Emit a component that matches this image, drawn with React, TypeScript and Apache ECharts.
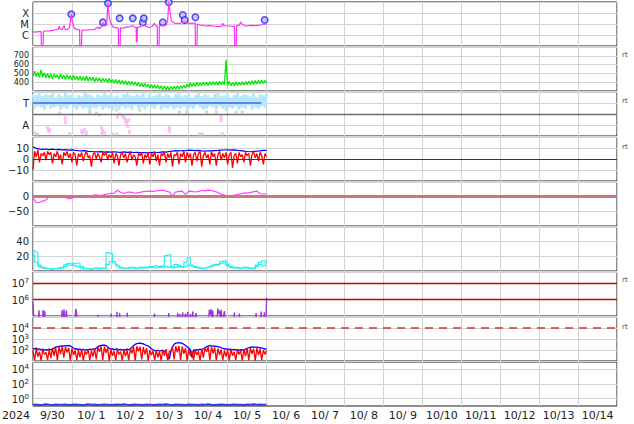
import React, { useEffect, useRef } from 'react';
import * as echarts from 'echarts';

const FONT = 'DejaVu Sans';
const GRID_COLOR = '#d2d2d2';

const dayLabels = ['9/30', '10/ 1', '10/ 2', '10/ 3', '10/ 4', '10/ 5', '10/ 6', '10/ 7', '10/ 8', '10/ 9', '10/10', '10/11', '10/12', '10/13', '10/14'];
const yearLabel = '2024';

// X-ray flux [hour since 9/30 00:00, W/m2]
const xrayFlux: [number, number][] = [
  [0, 1.8e-6], [2, 1.9e-6], [4, 2.0e-6], [5, 2.0e-6], [5.2, 1e-7], [6.2, 1e-7], [6.4, 2.1e-6], [8, 2.3e-6], [10, 2.4e-6],
  [12, 2.6e-6], [14, 3.0e-6], [15.5, 3.2e-6], [16.2, 6.5e-6], [16.8, 3.4e-6], [18, 3.0e-6], [19.2, 7.5e-6], [19.8, 3.2e-6],
  [21, 3.1e-6], [22.5, 4.5e-6], [23.6, 7.6e-5], [24.3, 1.5e-5], [25.5, 4.0e-6], [27, 3.2e-6], [28.7, 2.9e-6], [28.9, 1e-7],
  [29.9, 1e-7], [30.1, 2.8e-6], [32, 2.7e-6], [34, 2.9e-6], [36, 3.0e-6], [38, 3.3e-6], [40, 5.5e-6], [40.6, 3.8e-6],
  [42, 5.0e-6], [43.1, 1.2e-5], [44, 6.5e-6], [45.4, 8e-6], [46.2, 7.6e-4], [47, 4e-5], [48, 1.2e-5], [49.2, 5.5e-6],
  [51, 4.6e-6], [52.6, 4.3e-6], [52.7, 1e-7], [53.7, 1e-7], [53.9, 4.4e-6], [55.4, 4.3e-6], [57, 5.0e-6], [59.5, 5.7e-6],
  [61.5, 7e-6], [62.5, 5.2e-6], [63.6, 5e-6], [63.7, 2.4e-7], [64.2, 2.4e-7], [64.4, 5.2e-6], [65.7, 5.3e-6], [67.7, 8e-6],
  [68.7, 7.5e-6], [70, 5.8e-6], [71.8, 4.8e-6], [73.5, 6e-6], [74.9, 1.2e-5], [75.6, 7e-6], [76.6, 6.5e-6], [76.7, 1e-7],
  [77.7, 1e-7], [77.9, 6.8e-6], [79, 7e-6], [80, 9e-6], [81, 7e-6], [82.1, 8.1e-6], [83, 2e-5], [83.7, 9.4e-4],
  [84.5, 1.2e-4], [85.2, 2.3e-5], [86.3, 1.4e-5], [87.3, 1.2e-5], [89, 1.15e-5], [90.3, 1.1e-5], [92.3, 1.4e-5],
  [93.4, 1.5e-5], [95, 1.2e-5], [96.5, 1.2e-5], [98, 1.1e-5], [100, 1.3e-5], [100.1, 1e-7], [101.1, 1e-7], [101.3, 1e-5],
  [102.6, 8.1e-6], [104.5, 7.5e-6], [106.7, 6.6e-6], [108.5, 7e-6], [110.8, 6.6e-6], [113, 6.2e-6], [114.9, 5.7e-6],
  [116.3, 6.5e-6], [116.9, 1.2e-5], [117.6, 7e-6], [119, 6.6e-6], [121, 6.6e-6], [123, 6.2e-6], [124.2, 6.5e-6],
  [124.3, 1e-7], [125.3, 1e-7], [125.5, 7e-6], [127, 8e-6], [128.2, 1.5e-5], [129, 9e-6], [131.3, 6.6e-6], [133, 7e-6],
  [135, 7.5e-6], [137.5, 7.1e-6], [139.5, 7.8e-6], [141, 8.5e-6], [142.8, 1.0e-5], [143.8, 9.5e-6],
];
const flarePeaks: [number, number][] = [
  [23.6, 7.6e-5], [43.1, 1.4e-5], [46.2, 7.6e-4], [53.4, 3.3e-5], [61.5, 3.3e-5], [67.7, 1.4e-5], [68.3, 3.3e-5],
  [80, 1.4e-5], [83.7, 9.4e-4], [92.3, 6.6e-5], [93.5, 2.3e-5], [100.1, 4.1e-5], [142.8, 2.3e-5],
];

// hourly solar wind speed (km/s)
const windSpeed = [
  470, 525, 465, 510, 455, 540, 460, 505, 450, 500,
  445, 495, 440, 490, 450, 485, 435, 495, 440, 480,
  430, 485, 435, 475, 425, 480, 430, 470, 420, 468,
  420, 462, 415, 470, 410, 458, 418, 455, 405, 452,
  410, 448, 400, 446, 405, 440, 395, 442, 398, 432,
  388, 432, 385, 425, 380, 420, 378, 415, 372, 412,
  370, 408, 365, 402, 360, 398, 352, 390, 348, 385,
  342, 380, 335, 375, 332, 370, 328, 365, 322, 360,
  318, 356, 315, 352, 312, 350, 318, 355, 320, 358,
  322, 360, 328, 366, 332, 380, 342, 392, 350, 390,
  355, 398, 360, 392, 362, 402, 365, 400, 362, 406,
  368, 408, 370, 404, 366, 410, 372, 406, 368, 655,
  362, 408, 360, 400, 358, 404, 362, 398, 365, 404,
  368, 406, 372, 410, 375, 416, 378, 418, 380, 422,
  382, 426, 385, 420, 388,
];

// T / A panel (hourly band, level line, scattered points)
const tBand = [
  3.8, 2.5, 3.7, 2.7, 3.9, 2.6, 3.6, 2.4, 3.8, 2.8,
  3.7, 2.5, 3.9, 2.6, 3.5, 2.7, 3.8, 2.4, 3.6, 2.6,
  3.9, 2.5, 3.7, 2.8, 3.8, 2.6, 3.5, 2.4, 3.7, 2.7,
  3.6, 2.5, 3.9, 2.6, 3.8, 2.3, 3.7, 2.6, 3.5, 2.5,
  3.8, 2.7, 3.6, 2.4, 3.9, 2.6, 3.7, 2.5, 3.8, 2.3,
  3.6, 2.6, 3.7, 2.4, 3.5, 2.7, 3.8, 2.5, 3.9, 2.6,
  3.7, 2.4, 3.6, 2.8, 3.8, 2.5, 3.7, 2.6, 3.9, 2.4,
  3.5, 2.7, 3.8, 2.6, 3.6, 2.5, 3.7, 2.8, 3.9, 2.4,
  3.6, 2.6, 3.8, 2.5, 3.7, 2.7, 3.5, 2.4, 3.8, 2.6,
  3.9, 2.5, 3.6, 2.7, 3.7, 2.4, 3.8, 2.6, 3.5, 2.5,
  3.7, 2.8, 3.9, 2.6, 3.6, 2.4, 3.8, 2.5, 3.7, 2.7,
  3.5, 2.6, 3.8, 2.4, 3.9, 2.7, 3.6, 2.5, 3.7, 2.3,
  3.8, 2.6, 3.5, 2.5, 3.7, 2.7, 3.9, 2.4, 3.6, 2.6,
  3.8, 2.5, 3.7, 2.8, 3.6, 2.4, 3.9, 2.6, 3.5, 2.5,
  3.8, 2.7, 3.7, 2.6, 3.8,
];
const tLevel: [number, number][] = [[0, 3], [140.7, 3]];
const grayPoints: [number, number][] = [
  [16.4, 2.09], [34.9, 2.18], [39.2, 2.09], [41, 1.91], [51.5, 2.36], [53.4, 2.0], [55.2, 1.82], [65.8, 2.36],
  [90.3, 2.18], [94.6, 2.18], [106.9, 2.18], [113, 2.18], [125.4, 2.18], [129, 2.18],
  [1, 0.27], [2.9, 0.18], [22.6, 0.18], [30.6, 0.27], [42.3, 0.18], [49, 0.18], [51.5, 0.18], [102.6, 0.18],
  [104.4, 0.18], [116.7, 0.18],
];
const pinkPoints: [number, number][] = [
  [19.9, 1.61], [19.9, 1.25], [9.0, 0.73], [9.7, 0.45], [10.3, 0.55], [30, 0.45], [31.8, 0.55], [33, 0.27],
  [42.3, 0.73], [42.9, 0.45], [44.1, 0.27], [52.1, 1.73], [56.4, 1.64], [57, 1.36], [57.7, 1.18], [58.3, 0.91],
  [58.9, 1.45], [59.5, 0.36], [84.1, 0.73], [84.1, 0.45], [115.9, 1.73], [115.9, 1.45],
];

// IMF: Bt every 2 h, Bz hourly (nT)
const bt = [
  11.2, 9.6, 9.0, 8.8, 9.1, 8.6, 8.9, 8.4, 8.7, 8.3,
  8.5, 8.1, 8.3, 7.8, 7.5, 7.3, 7.6, 7.0, 6.8, 6.6,
  6.4, 6.7, 6.3, 6.5, 6.2, 6.6, 6.3, 6.1, 6.4, 6.0,
  6.2, 5.9, 6.1, 5.8, 5.9, 5.6, 5.8, 6.0, 5.7, 6.1,
  6.5, 6.3, 6.8, 7.2, 7.6, 7.3, 7.7, 7.5, 8.0, 7.8,
  7.6, 7.9, 7.4, 7.2, 7.5, 7.3, 7.6, 7.8, 8.1, 8.2,
  8.4, 8.0, 8.3, 7.9, 7.6, 7.2, 6.8, 6.6, 6.9, 7.1,
  7.4, 7.8, 7.9,
];
const bz = [
  -10, 7, 2, 8, -3, 5, 3, 6, -1, 7,
  4, 6, -4, 5, 2, 7, 0, 4, -5, 6,
  3, 7, 1, 5, -3, 6, 4, -6, 5, 2,
  6, -2, 4, 7, 1, 3, -7, 4, 6, 0,
  5, 2, -3, 6, 3, 7, -1, 4, 1, 6,
  -4, 5, 3, -6, 4, 6, 1, 5, -3, 3,
  7, -1, 4, 2, -6, 5, 3, 6, -4, 4,
  1, 6, -5, 5, 2, 7, -2, 4, -6, 5,
  3, 7, -3, 5, 1, 6, -7, 4, 3, 6,
  -5, 5, 2, 7, -3, 6, 1, 5, -6, 4,
  6, -2, 5, 7, -7, 3, 6, 1, 4, -5,
  7, 2, 5, -6, 4, 7, -1, 5, 1, 6,
  -5, 4, 6, -8, 3, 5, -4, 6, 2, 4,
  -3, 6, 3, 5, -6, 4, 7, 1, 5, -2,
  6, 3, -5, 5, 2,
];

// Dst every 2 h (nT)
const dst = [
  -4, -20, -19, -15, -11, 0, 3, 4, 2, 0,
  -2, -7, -5, -1, -1, -2, 0, 2, 3, 6,
  5, 4, 7, 10, 11, 12, 22, 15, 11, 15,
  16, 13, 12, 15, 17, 18, 19, 18, 20, 21,
  22, 19, 16, 2, 16, 18, 19, 8, 19, 18,
  16, 18, 21, 20, 22, 21, 18, 14, 8, 5,
  2, 3, 5, 7, 10, 12, 13, 14, 17, 19,
  10, 9, 10,
];

// density-like traces every 2 h
const cyanA = [
  28, 26, 8, 5, 4, 3, 3, 3, 4, 5,
  9, 8, 8, 10, 11, 6, 4, 3, 3, 3,
  3, 4, 3, 25, 24, 13, 7, 5, 4, 4,
  4, 5, 4, 4, 5, 4, 5, 6, 7, 6,
  5, 21, 22, 4, 5, 8, 6, 12, 18, 8,
  6, 5, 4, 4, 5, 6, 8, 9, 13, 14,
  7, 5, 4, 5, 4, 4, 5, 4, 3, 6,
  12, 14, 14,
];
const cyanB = [
  22, 12, 6, 4, 3, 3, 2, 3, 3, 4,
  6, 10, 11, 7, 6, 4, 3, 3, 2, 4,
  4, 3, 4, 9, 13, 11, 8, 4, 3, 3,
  5, 4, 3, 5, 4, 5, 6, 5, 4, 5,
  7, 6, 5, 6, 9, 6, 5, 6, 8, 7,
  5, 4, 3, 4, 5, 7, 9, 8, 10, 12,
  9, 6, 5, 4, 3, 5, 4, 3, 4, 8,
  9, 7, 12,
];

// electron flux [hour, value]
const electronFlux: [number, number][] = [
  [0, 7.6e5], [0.6, 4e4], [3.2, 4e4], [3.7, 2.2e5], [4.2, 4e4], [5.8, 4e4], [6.2, 2.4e5], [6.7, 4e4], [7.2, 2.0e5], [7.7, 4e4],
  [17.5, 4e4], [17.9, 2.3e5], [18.4, 4e4], [19.1, 2.6e5], [19.6, 4e4], [20.6, 2.2e5], [21.1, 4e4],
  [25.8, 4e4], [26.3, 2.8e5], [26.9, 1.5e5], [27.4, 4e4], [39.6, 4e4], [40, 1.2e5], [40.4, 4e4],
  [47.8, 4e4], [48.2, 1.4e5], [48.6, 4e4], [51.3, 4e4], [51.7, 1.8e5], [52.1, 4e4], [53, 4e4], [53.4, 1.5e5], [53.8, 4e4],
  [57.7, 4e4], [58.1, 1.6e5], [58.5, 4e4], [74.5, 4e4], [74.9, 1.4e5], [75.3, 4e4], [83.3, 4e4], [83.7, 1.5e5], [84.1, 4e4],
  [88.8, 4e4], [89.2, 1.6e5], [89.6, 4e4], [90.5, 1.3e5], [91.2, 4e4], [92.3, 1.7e5], [92.8, 4e4], [94, 1.4e5], [94.6, 4e4],
  [95.4, 1.8e5], [95.9, 4e4], [97, 1.3e5], [97.6, 4e4], [98.5, 1.9e5], [99, 4e4], [100.6, 1.5e5], [101.1, 4e4],
  [108.2, 4e4], [108.7, 2.4e5], [109.2, 1.2e5], [109.8, 2.6e5], [110.4, 4e4], [110.8, 2.2e5], [111.3, 4e4],
  [113.4, 4e4], [113.9, 2.9e5], [114.4, 1.4e5], [115, 2.1e5], [115.5, 4e4], [116, 2.5e5], [116.6, 4e4], [118, 2.0e5], [118.5, 4e4],
  [123.6, 4e4], [124.1, 1.6e5], [124.6, 4e4], [126.7, 4e4], [127.2, 1.4e5], [127.7, 4e4],
  [137, 4e4], [137.5, 1.5e5], [138, 4e4], [140.1, 4e4], [140.6, 1.9e5], [141.2, 4e4], [142.2, 4e4], [142.6, 1.7e5],
  [143.1, 4e4], [143.6, 4e4], [144, 1.3e6],
];

// particle flux, hourly
const fluxBlue = [
  140, 120, 150, 110, 130, 100, 125, 95, 110, 100,
  120, 105, 130, 150, 180, 200, 210, 230, 240, 220,
  250, 240, 260, 230, 190, 150, 120, 130, 110, 125,
  100, 115, 95, 110, 100, 120, 105, 130, 110, 150,
  200, 240, 260, 280, 270, 250, 200, 140, 120, 130,
  110, 120, 125, 100, 115, 95, 110, 100, 120, 105,
  130, 180, 250, 320, 380, 400, 410, 390, 360, 300,
  270, 230, 180, 130, 100, 90, 85, 95, 80, 90,
  85, 80, 75, 20, 15, 80, 200, 330, 420, 450,
  460, 440, 400, 330, 260, 200, 150, 110, 20, 100,
  95, 110, 100, 120, 105, 130, 150, 200, 230, 250,
  240, 230, 220, 210, 200, 180, 160, 140, 130, 120,
  125, 110, 120, 105, 115, 100, 110, 95, 105, 100,
  110, 120, 140, 160, 180, 190, 170, 180, 185, 170,
  160, 150, 140, 120, 130,
];
const fluxRed = [
  90, 12, 130, 25, 70, 11, 120, 40, 60, 13,
  110, 18, 150, 30, 170, 12, 190, 45, 210, 20,
  180, 60, 160, 11, 140, 35, 90, 12, 100, 22,
  120, 11, 75, 40, 105, 12, 85, 25, 130, 14,
  180, 70, 220, 12, 200, 55, 150, 11, 110, 30,
  80, 12, 115, 40, 70, 11, 100, 28, 95, 12,
  130, 50, 190, 11, 220, 75, 200, 14, 180, 40,
  150, 11, 100, 35, 80, 12, 95, 22, 70, 11,
  105, 30, 120, 12, 70, 80, 190, 14, 220, 60,
  230, 12, 210, 45, 150, 11, 120, 30, 80, 12,
  110, 35, 75, 11, 130, 20, 170, 65, 200, 12,
  190, 50, 170, 11, 140, 35, 110, 12, 90, 25,
  100, 11, 120, 30, 70, 12, 105, 40, 90, 11,
  120, 28, 140, 12, 160, 45, 130, 11, 150, 35,
  120, 12, 100, 40, 85,
];

// bottom panel, every 2 h
const bottomFlux = [
  0.15, 0.16, 0.14, 0.15, 0.17, 0.15, 0.14, 0.16, 0.15, 0.15,
  0.16, 0.14, 0.15, 0.16, 0.15, 0.14, 0.15, 0.17, 0.15, 0.16,
  0.14, 0.15, 0.16, 0.15, 0.14, 0.15, 0.16, 0.15, 0.17, 0.15,
  0.14, 0.16, 0.15, 0.15, 0.14, 0.16, 0.15, 0.14, 0.15, 0.16,
  0.15, 0.17, 0.15, 0.14, 0.16, 0.15, 0.15, 0.14, 0.16, 0.15,
  0.15, 0.14, 0.16, 0.15, 0.17, 0.15, 0.14, 0.15, 0.16, 0.15,
  0.14, 0.15, 0.16, 0.15, 0.15, 0.14, 0.16, 0.15, 0.17, 0.15,
  0.16, 0.15, 0.15,
];

const hourly = (arr: number[]) => arr.map((v, i) => [i, v]);
const twoHourly = (arr: number[]) => arr.map((v, i) => [i * 2, v]);

const PANEL_TOPS = [2, 47, 92, 137, 182, 227, 272, 317, 362];
const PANEL_H = 44;

const RICH = {
  b: { fontSize: 10, lineHeight: 11, verticalAlign: 'bottom', fontFamily: FONT, color: '#222' },
  s: { fontSize: 7, lineHeight: 11, verticalAlign: 'top', fontFamily: FONT, color: '#222' },
  n: { fontSize: 10, lineHeight: 9, fontFamily: FONT, color: '#222' },
  m: { fontSize: 8, lineHeight: 8, fontFamily: FONT, color: '#222' },
};

const expOf = (v: number) => {
  const e = Math.log10(v);
  const r = Math.round(e);
  return Math.abs(e - r) < 1e-6 ? r : null;
};

const yAxisBase = (i: number, extra: any, formatter: (v: number) => string) => ({
  gridIndex: i,
  axisLine: { show: false },
  axisTick: { show: false },
  splitLine: { show: true, lineStyle: { color: GRID_COLOR, width: 1 } },
  axisLabel: { margin: 4, fontSize: 10, color: '#222', fontFamily: FONT, rich: RICH, formatter },
  ...extra,
});

const hline = (values: number[], color: string, width: number, type: any = 'solid') => ({
  silent: true,
  symbol: 'none',
  label: { show: false },
  animation: false,
  lineStyle: { color, width, type },
  data: values.map((v) => ({ yAxis: v })),
});

const minus = (v: number) => (v < 0 ? '\u2212' + Math.abs(v) : String(v));

function buildOption() {
  const grids = PANEL_TOPS.map((top) => ({
    left: 33,
    right: 17,
    top,
    height: PANEL_H,
    show: true,
    borderColor: '#1a1a1a',
    borderWidth: 1,
    backgroundColor: 'transparent',
  }));

  const xAxes: any[] = PANEL_TOPS.map((_, i) => ({
    type: 'value',
    gridIndex: i,
    min: 0,
    max: 360,
    interval: 24,
    axisLine: { show: false },
    axisTick: { show: false },
    axisLabel: { show: false },
    splitLine: { show: true, lineStyle: { color: GRID_COLOR, width: 1 } },
  }));
  xAxes.push({
    type: 'category',
    gridIndex: 8,
    data: dayLabels,
    boundaryGap: true,
    position: 'bottom',
    axisLine: { show: false },
    axisTick: { show: false },
    splitLine: { show: false },
    axisLabel: { interval: 0, margin: 4, fontSize: 11, color: '#222', fontFamily: FONT },
  });

  const classMap: Record<number, string> = { [-4]: 'X', [-5]: 'M', [-6]: 'C' };
  const pow = (lo: number, hi: number) => (v: number) => {
    const r = expOf(v);
    if (r === null || r < lo || r > hi) return '';
    return `{b|10}{s|${r}}`;
  };

  const yAxes = [
    yAxisBase(0, { type: 'log', logBase: 10, min: 1e-7, max: 1e-3 }, (v: number) => {
      const r = expOf(v);
      return r !== null && classMap[r] ? `{n|${classMap[r]}}` : '';
    }),
    yAxisBase(1, { type: 'value', min: 300, max: 800, interval: 100 }, (v: number) =>
      v >= 400 && v <= 700 ? `{m|${v}}` : ''),
    yAxisBase(2, { type: 'value', min: 0, max: 4, interval: 1 }, (v: number) =>
      v === 3 ? '{n|T}' : v === 1 ? '{n|A}' : ''),
    yAxisBase(3, { type: 'value', min: -20, max: 20, interval: 10 }, (v: number) =>
      Math.abs(v) <= 10 ? `{n|${minus(v)}}` : ''),
    yAxisBase(4, { type: 'value', min: -100, max: 50, interval: 50 }, (v: number) =>
      v === 0 || v === -50 ? `{n|${minus(v)}}` : ''),
    yAxisBase(5, { type: 'value', min: 0, max: 60, interval: 20 }, (v: number) =>
      v === 20 || v === 40 ? `{n|${v}}` : ''),
    yAxisBase(6, { type: 'log', logBase: 10, min: 1e5, max: 5e7 }, pow(6, 7)),
    yAxisBase(7, { type: 'log', logBase: 10, min: 10, max: 1e5 }, pow(2, 4)),
    {
      ...yAxisBase(8, { type: 'log', logBase: 10, min: 0.1, max: 1e5 }, (v: number) => {
        const r = expOf(v);
        return r !== null && (r === 0 || r === 2 || r === 4) ? `{b|10}{s|${r}}` : '';
      }),
      splitLine: { show: false },
    },
  ];

  const line = (i: number, data: any[], color: string, width: number, extra: any = {}) => ({
    type: 'line',
    xAxisIndex: i,
    yAxisIndex: i,
    data,
    symbol: 'none',
    showSymbol: false,
    lineStyle: { color, width },
    itemStyle: { color },
    clip: true,
    silent: true,
    ...extra,
  });

  const series: any[] = [
    line(0, xrayFlux, '#ff30ff', 1.2),
    {
      type: 'scatter', xAxisIndex: 0, yAxisIndex: 0, data: flarePeaks, symbol: 'circle', symbolSize: 6.5,
      itemStyle: { color: '#b9b9ff', borderColor: '#2424e8', borderWidth: 1.5 }, silent: true,
    },
    line(1, hourly(windSpeed), '#00e800', 1.3),
    line(2, hourly(tBand), '#b2e8fb', 2.5, { markLine: hline([2], '#6e6e6e', 1.3) }),
    {
      type: 'scatter', xAxisIndex: 2, yAxisIndex: 2, data: grayPoints, symbol: 'rect', symbolSize: [3, 3],
      itemStyle: { color: '#cccccc' }, silent: true,
    },
    {
      type: 'scatter', xAxisIndex: 2, yAxisIndex: 2, data: pinkPoints, symbol: 'rect', symbolSize: [3, 4],
      itemStyle: { color: '#f6b6f2' }, silent: true,
    },
    line(2, tLevel, '#6a7cf2', 2),
    line(3, twoHourly(bt), '#0000ff', 1.2, { markLine: hline([0], '#b40000', 1.2) }),
    line(3, hourly(bz), '#ff0000', 1.3),
    line(4, twoHourly(dst), '#ff40ff', 1.2, { markLine: hline([0], '#cc7777', 3), z: 3 }),
    line(5, twoHourly(cyanA), '#1ff0f0', 1.1, { step: 'middle' }),
    line(5, twoHourly(cyanB), '#1ff0f0', 1.1, { step: 'middle' }),
    line(6, electronFlux, '#a030d8', 1.3, { markLine: hline([1e6, 1e7], '#cc0000', 1.3) }),
    line(7, hourly(fluxBlue), '#0000ff', 1.3, { markLine: hline([1e4], '#dd3030', 1.5, [8, 6]) }),
    line(7, hourly(fluxRed), '#ff0000', 1.3),
    line(8, twoHourly(bottomFlux), '#3040e0', 2, { markLine: hline([1, 100, 1e4], GRID_COLOR, 1) }),
  ];

  const rtY = [55, 101, 147, 280, 327];
  const graphic: any[] = rtY.map((y) => ({
    type: 'text',
    x: 622,
    y,
    silent: true,
    style: { text: 'rt', fontSize: 7, fill: '#444', fontFamily: FONT, verticalAlign: 'middle' },
  }));
  graphic.push({
    type: 'text',
    x: 2,
    y: 415,
    silent: true,
    style: { text: yearLabel, fontSize: 11, fill: '#222', fontFamily: FONT, verticalAlign: 'middle' },
  });

  return {
    animation: false,
    backgroundColor: '#ffffff',
    textStyle: { fontFamily: FONT },
    grid: grids,
    xAxis: xAxes,
    yAxis: yAxes,
    series,
    graphic,
  };
}

export default function App() {
  const ref = useRef<HTMLDivElement>(null);
  useEffect(() => {
    if (!ref.current) return;
    const chart = echarts.init(ref.current, null, { renderer: 'svg' });
    chart.setOption(buildOption() as any);
    return () => chart.dispose();
  }, []);
  return <div ref={ref} style={{ position: 'fixed', left: 0, top: 0, width: 634, height: 424 }} />;
}
